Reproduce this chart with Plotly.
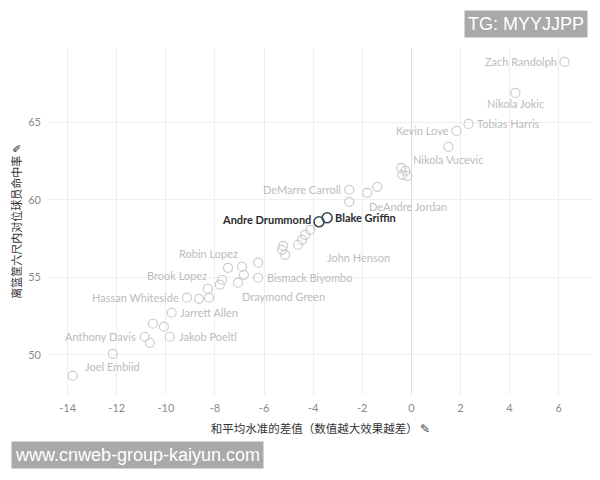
import plotly.graph_objects as go

# ---- data ----
names = [
    "Zach Randolph", "Nikola Jokic", "Tobias Harris", "Kevin Love", "Nikola Vucevic",
    "", "", "", "",
    "DeMarre Carroll", "", "DeAndre Jordan", "",
    "Andre Drummond", "Blake Griffin",
    "", "", "", "John Henson", "", "", "",
    "", "Robin Lopez", "", "", "Bismack Biyombo", "Draymond Green", "Brook Lopez",
    "", "", "", "", "Hassan Whiteside", "Jarrett Allen", "", "",
    "Anthony Davis", "", "Jakob Poeltl", "Joel Embiid", "",
]
diff = [
    6.24, 4.24, 2.33, 1.84, 1.51,
    -0.41, -0.24, -0.37, -0.16,
    -2.53, -2.53, -1.80, -1.39,
    -3.76, -3.43,
    -4.12, -4.33, -4.45, -4.61, -5.22, -5.27, -5.14,
    -7.47, -6.90, -6.82, -6.24, -6.24, -7.06, -7.71,
    -7.80, -8.29, -8.24, -8.65, -9.14, -9.76, -10.08, -10.53,
    -10.86, -10.65, -9.84, -12.16, -13.80,
]
fg_pct = [
    68.90, 66.90, 64.90, 64.45, 63.42,
    62.06, 61.87, 61.61, 61.55,
    60.65, 59.87, 60.45, 60.84,
    58.58, 58.84,
    58.06, 57.74, 57.42, 57.10, 57.03, 56.77, 56.45,
    55.61, 55.68, 55.16, 55.94, 54.97, 54.65, 54.84,
    54.52, 54.26, 53.68, 53.61, 53.68, 52.71, 51.81, 52.00,
    51.16, 50.77, 51.16, 50.06, 48.65,
]
highlight = ["Andre Drummond", "Blake Griffin"]
x_ticks = [-14, -12, -10, -8, -6, -4, -2, 0, 2, 4, 6]
y_ticks = [50, 55, 60, 65]

# ---- label placement (style) ----
label_style = {
    "Zach Randolph": ("right", -6, 0),
    "Nikola Jokic": ("center", 0, -11),
    "Tobias Harris": ("left", 6, 0),
    "Kevin Love": ("right", -6, 0),
    "Nikola Vucevic": ("center", 0, -13),
    "DeMarre Carroll": ("right", -6, 0),
    "DeAndre Jordan": ("left", 0, -14),
    "Andre Drummond": ("right", -6, 2),
    "Blake Griffin": ("left", 6, 0),
    "John Henson": ("left", 27, -13),
    "Robin Lopez": ("right", -2, 13),
    "Brook Lopez": ("right", -13, 4),
    "Bismack Biyombo": ("left", 7, 0),
    "Draymond Green": ("left", 2, -14),
    "Hassan Whiteside": ("right", -6, 0),
    "Jarrett Allen": ("left", 6, 0),
    "Anthony Davis": ("right", -7, 0),
    "Jakob Poeltl": ("left", 7, 0),
    "Joel Embiid": ("center", 0, -13),
}

grey_x = [x for x, n in zip(diff, names) if n not in highlight]
grey_y = [y for y, n in zip(fg_pct, names) if n not in highlight]
hi_x = [x for x, n in zip(diff, names) if n in highlight]
hi_y = [y for y, n in zip(fg_pct, names) if n in highlight]

fig = go.Figure()
fig.add_trace(go.Scatter(
    x=grey_x, y=grey_y, mode="markers",
    marker=dict(size=9, color="rgba(255,255,255,0)",
                line=dict(color="#cccccc", width=1.2)),
    hoverinfo="skip", showlegend=False,
))
fig.add_trace(go.Scatter(
    x=hi_x, y=hi_y, mode="markers",
    marker=dict(size=10, color="rgba(255,255,255,0)",
                line=dict(color="#34495a", width=1.6)),
    hoverinfo="skip", showlegend=False,
))

font_fam = "Lato, 'Open Sans', sans-serif"
for n, x, y in zip(names, diff, fg_pct):
    if not n:
        continue
    xa, xs, ys = label_style[n]
    hi = n in highlight
    fig.add_annotation(
        x=x, y=y, text=(f"<b>{n}</b>" if hi else n), showarrow=False,
        xanchor=xa, yanchor="middle", xshift=xs, yshift=ys,
        font=dict(family=font_fam, size=11 if hi else 11,
                  color="#2b2b2b" if hi else "#bcbcbc"),
    )

# page body has an 8px margin, so the figure is 8px smaller and offset
W, H = 592, 472
ml, mr, mt, mb = 40, 7, 40, 85
pw, ph = W - ml - mr, H - mt - mb

def px2paper(px, py):
    # px, py are screen coordinates
    return (px - 8 - ml) / pw, (H - mb - (py - 8)) / ph

# watermark boxes
wx, wy = px2paper(526, 24)
fig.add_annotation(
    x=wx, y=wy, xref="paper", yref="paper", text="TG: MYYJJPP", showarrow=False,
    xanchor="center", yanchor="middle",
    font=dict(family="Liberation Sans, Arial, sans-serif", size=18, color="white"),
    bgcolor="#a9a9a9", borderpad=3,
)
wx, wy = px2paper(137, 455)
fig.add_annotation(
    x=wx, y=wy, xref="paper", yref="paper", text="www.cnweb-group-kaiyun.com",
    showarrow=False, xanchor="center", yanchor="middle",
    font=dict(family="Liberation Sans, Arial, sans-serif", size=18, color="white"),
    bgcolor="#a9a9a9", borderpad=3,
)

fig.update_layout(
    width=W, height=H,
    margin=dict(l=ml, r=mr, t=mt, b=mb, autoexpand=False),
    plot_bgcolor="white", paper_bgcolor="white",
    font=dict(family=font_fam),
    xaxis=dict(
        range=[-14.8, 7.4], tickvals=x_ticks,
        ticktext=[str(v) for v in x_ticks],
        showgrid=True, gridcolor="#eeeeee", gridwidth=1,
        zeroline=True, zerolinecolor="#dddddd", zerolinewidth=1,
        showline=False, ticks="", automargin=False,
        tickfont=dict(size=11, color="#8a8a8a"),
        ticklabelstandoff=5,
        title=dict(text="和平均水准的差值（数值越大效果越差） ✎",
                   font=dict(family="Noto Sans CJK SC", size=11.5, color="#333333"),
                   standoff=11),
    ),
    yaxis=dict(
        range=[47.4, 69.8], tickvals=y_ticks,
        showgrid=True, gridcolor="#eeeeee", gridwidth=1,
        zeroline=False, showline=False, ticks="", automargin=False,
        tickfont=dict(size=11, color="#8a8a8a"),
        ticklabelstandoff=6,
        title=dict(text="离篮筐六尺内对位球员命中率 ✎",
                   font=dict(family="Noto Sans CJK SC", size=11, color="#333333"),
                   standoff=4),
    ),
)

fig.write_html("out.html")
